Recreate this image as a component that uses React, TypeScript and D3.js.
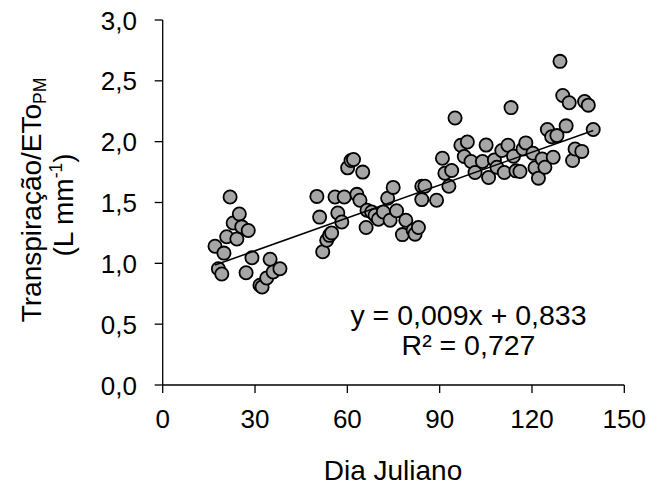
import React from "react";
import * as d3 from "d3";

const days: number[] = [
  17.0, 18.1, 19.2, 19.9, 20.8, 21.9, 22.9, 24.1, 24.9, 25.7, 27.1, 27.8, 29.0, 31.6, 32.3, 33.8, 34.9, 35.9, 38.1,
  50.1, 51.0, 52.0, 53.3, 54.2, 54.9, 56.0, 56.9, 58.2, 59.0, 60.1, 61.2, 62.0, 63.1, 64.1, 65.0, 66.1, 66.4, 67.9,
  69.0, 70.1, 71.7, 73.1, 73.9, 74.9, 76.0, 77.9, 79.0, 81.4, 82.0, 83.1,
  84.2, 85.2, 84.2, 89.0, 90.9, 91.7, 93.0, 93.9, 95.0, 96.9, 98.0, 99.0, 100.2, 101.5, 103.9, 105.1, 105.9, 107.8,
  108.6, 110.2, 111.0, 112.2, 113.2, 114.0, 114.8, 116.1, 117.1, 118.0, 120.3, 121.0, 122.1, 123.3, 124.2, 125.0,
  126.4, 126.9, 128.1, 129.1, 130.0, 131.1, 132.1, 133.2, 134.0, 136.2, 137.1, 138.3, 139.9,
];
const ratios: number[] = [
  1.14, 0.956, 0.912, 1.084, 1.218, 1.545, 1.332, 1.2, 1.406, 1.3, 0.923, 1.27, 1.046, 0.82, 0.806, 0.88, 1.033, 0.929, 0.956,
  1.55, 1.38, 1.095, 1.19, 1.23, 1.25, 1.545, 1.414, 1.34, 1.545, 1.785, 1.845, 1.853, 1.567, 1.518, 1.75, 1.295, 1.436, 1.422,
  1.395, 1.362, 1.422, 1.535, 1.354, 1.624, 1.432, 1.236, 1.354, 1.272, 1.24, 1.295,
  1.633, 1.633, 1.524, 1.518, 1.864, 1.741, 1.633, 1.763, 2.195, 1.97, 1.878, 1.997, 1.837, 1.747, 1.837, 1.972, 1.706, 1.85,
  1.79, 1.927, 1.747, 1.97, 2.28, 1.88, 1.76, 1.755, 1.94, 1.99, 1.905, 1.785, 1.7, 1.857, 1.79, 2.1,
  2.04, 1.872, 2.05, 2.66, 2.38, 2.13, 2.32, 1.845, 1.94, 1.92, 2.33, 2.3, 2.1,
];
const xTicks: number[] = [0, 30, 60, 90, 120, 150];
const yTicks: number[] = [0, 0.5, 1, 1.5, 2, 2.5, 3];
const slope = 0.009;
const intercept = 0.833;
const equationText = "y = 0,009x + 0,833";
const r2Text = "R² = 0,727";

const FONT = "'Liberation Sans', Arial, sans-serif";

export default function App() {
  const x = d3.scaleLinear().domain([0, 150]).range([162.7, 624.3]);
  const y = d3.scaleLinear().domain([0, 3]).range([385, 20]);
  const fmt = (v: number) => d3.format(".1f")(v).replace(".", ",");
  const points = days.map((d, i) => ({ d, v: ratios[i] }));
  const xmin = d3.min(days) as number;
  const xmax = d3.max(days) as number;
  const line = d3
    .line<number>()
    .x((d) => x(d))
    .y((d) => y(slope * d + intercept));

  return (
    <svg
      width={652}
      height={487}
      style={{ position: "absolute", left: 0, top: 0, background: "#fff" }}
      fontFamily={FONT}
    >
      {/* axes */}
      <line x1={x(0)} x2={x(150)} y1={y(0)} y2={y(0)} stroke="#000" strokeWidth={1.3} />
      <line x1={x(0)} x2={x(0)} y1={y(0)} y2={y(3)} stroke="#000" strokeWidth={1.3} />
      {xTicks.map((t) => (
        <g key={"x" + t}>
          <line x1={x(t)} x2={x(t)} y1={y(0)} y2={y(0) + 8} stroke="#000" strokeWidth={1.3} />
          <text x={x(t)} y={428} textAnchor="middle" fontSize={26} fill="#000">
            {t}
          </text>
        </g>
      ))}
      {yTicks.map((t) => (
        <g key={"y" + t}>
          <line x1={x(0) - 8} x2={x(0)} y1={y(t)} y2={y(t)} stroke="#000" strokeWidth={1.3} />
          <text x={137} y={y(t) + 9.5} textAnchor="end" fontSize={26} fill="#000">
            {fmt(t)}
          </text>
        </g>
      ))}

      {/* points */}
      {points.map((p, i) => (
        <circle key={i} cx={x(p.d)} cy={y(p.v)} r={6.6} fill="#a6a6a6" stroke="#000" strokeWidth={1.8} />
      ))}

      {/* trend line */}
      <path d={line([xmin, xmax]) || ""} fill="none" stroke="#000" strokeWidth={1.5} />

      {/* equation */}
      <text x={468.5} y={325} textAnchor="middle" fontSize={28.5} fill="#000">
        {equationText}
      </text>
      <text x={468.5} y={355} textAnchor="middle" fontSize={28.5} fill="#000">
        {r2Text}
      </text>

      {/* axis titles */}
      <text x={393} y={480} textAnchor="middle" fontSize={28} fill="#000">
        Dia Juliano
      </text>
      <text transform="translate(41,200) rotate(-90)" textAnchor="middle" fontSize={28} fill="#000">
        Transpiração/ETo
        <tspan fontSize={17.5} dy={5}>PM</tspan>
      </text>
      <text transform="translate(73,205) rotate(-90)" textAnchor="middle" fontSize={28} fill="#000">
        (L mm
        <tspan fontSize={17.5} dy={-11}>-1</tspan>
        <tspan dy={11}>)</tspan>
      </text>
    </svg>
  );
}
